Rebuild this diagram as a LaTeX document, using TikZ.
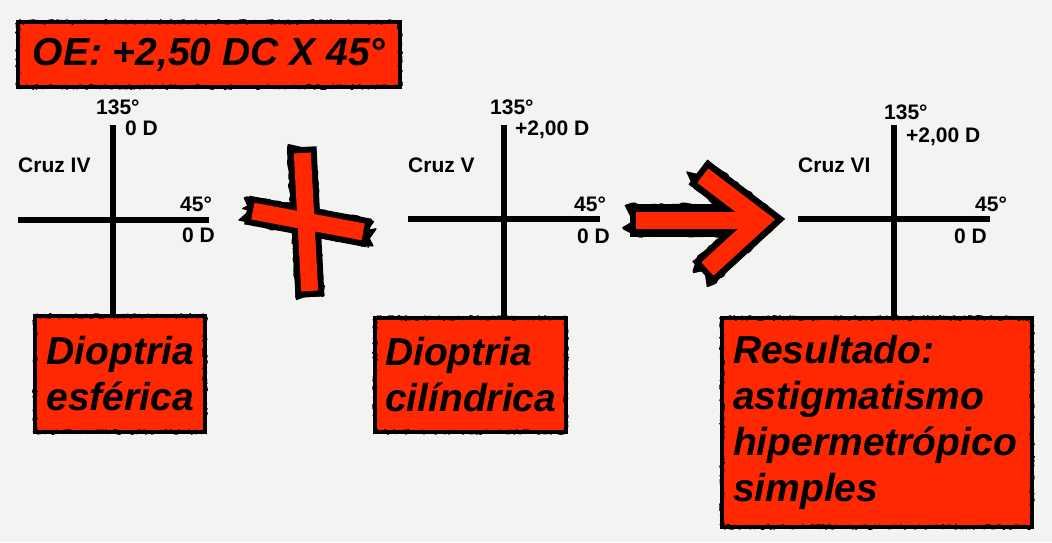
\documentclass[tikz,border=0pt]{standalone}
\usepackage{fontspec}
\setmainfont{Liberation Sans}
\usetikzlibrary{decorations.pathmorphing}
\definecolor{paper}{RGB}{243,243,242}
\definecolor{signred}{RGB}{255,40,0}
\tikzset{
  axis/.style={line width=5.5pt},
  lbl/.style={anchor=base west, inner sep=0pt, font=\fontsize{21}{25}\selectfont\bfseries},
  sign/.style={fill=signred, draw=black, line width=3.5pt, inner sep=0pt, align=left,
    font=\fontsize{39}{46}\selectfont\bfseries\itshape,
    postaction={draw, line width=2pt, line join=round, decorate,
      decoration={random steps, segment length=1.5pt, amplitude=2pt}}},
  blob/.style={draw=black, line join=miter},
  rough/.style={draw=black, line join=bevel, decorate,
    decoration={random steps, segment length=2pt, amplitude=1.5pt, pre length=2pt, post length=2pt}},
  blobfill/.style={draw=signred, line join=miter, shorten <=6pt, shorten >=6pt}
}
\begin{document}
\begin{tikzpicture}[x=1pt, y=-1pt]
  \fill[paper] (0,0) rectangle (1052,542);

  \node[sign, minimum width=382pt, minimum height=65pt] (oe) at (209,54.5) {OE: +2,50 DC X 45°};
  \node[sign, minimum width=170pt, minimum height=116pt, text width=147pt] (esf) at (120,374) {Dioptria\\esférica};
  \node[sign, minimum width=191pt, minimum height=114pt, text width=171pt] (cil) at (470.5,375) {Dioptria\\cilíndrica};
  \node[sign, minimum width=310pt, minimum height=209pt, text width=288pt] (res) at (877,422.5) {Resultado:\\astigmatismo\\hipermetrópico\\simples};

  \coordinate (v1) at (113,125);
  \coordinate (h1a) at (18,220);
  \coordinate (h1b) at (209,220);
  \draw[axis] (v1) -- (v1 |- esf.north);
  \draw[axis] (h1a) -- (h1b);
  \node[lbl] (t1) at (96,114) {135°};
  \node[lbl] (tp1) at (125,135) {0 D};
  \node[lbl] (c1) at (18,172) {Cruz IV};
  \node[lbl] (r1) at (180,211) {45°};
  \node[lbl] (rp1) at (182,242) {0 D};

  \coordinate (v2) at (504,125);
  \coordinate (h2a) at (408,219);
  \coordinate (h2b) at (600,219);
  \draw[axis] (v2) -- (v2 |- cil.north);
  \draw[axis] (h2a) -- (h2b);
  \node[lbl] (t2) at (490,114) {135°};
  \node[lbl] (tp2) at (515,135) {+2,00 D};
  \node[lbl] (c2) at (408,172) {Cruz V};
  \node[lbl] (r2) at (574,211) {45°};
  \node[lbl] (rp2) at (577,243) {0 D};

  \coordinate (v3) at (894,125);
  \coordinate (h3a) at (798,219);
  \coordinate (h3b) at (990,219);
  \draw[axis] (v3) -- (v3 |- res.north);
  \draw[axis] (h3a) -- (h3b);
  \node[lbl] (t3) at (884,119) {135°};
  \node[lbl] (tp3) at (906,142) {+2,00 D};
  \node[lbl] (c3) at (798,172) {Cruz VI};
  \node[lbl] (r3) at (975,211) {45°};
  \node[lbl] (rp3) at (954,243) {0 D};

  \coordinate (pl) at (247,210);
  \coordinate (pr) at (369,233);
  \coordinate (pt) at (302,147);
  \coordinate (pb) at (310,297);
  \draw[blob, line width=29pt] (pl) -- (pr) (pt) -- (pb);
  \draw[rough, line width=29pt] (pl) -- (pr) (pt) -- (pb);
  \draw[blobfill, line width=17pt] (pl) -- (pr);
  \draw[blobfill, line width=17pt] (pt) -- (pb);

  \coordinate (sa) at (630,220);
  \coordinate (sb) at (755,220);
  \coordinate (au) at (698,172);
  \coordinate (tip) at (761,220);
  \coordinate (ad) at (703,273);
  \draw[blob, line width=33pt] (sa) -- (sb);
  \draw[blob, line width=31pt] (au) -- (tip) -- (ad);
  \draw[rough, line width=33pt] (sa) -- (sb);
  \draw[rough, line width=31pt] (au) -- (tip) -- (ad);
  \draw[blobfill, line width=17pt] (sa) -- (sb);
  \draw[blobfill, line width=18pt] (au) -- (tip) -- (ad);
\end{tikzpicture}
\end{document}
